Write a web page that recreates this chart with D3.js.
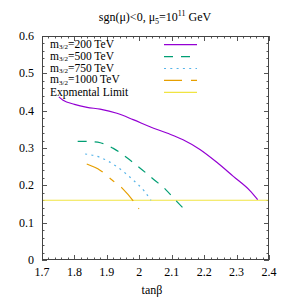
<!DOCTYPE html>
<html>
<head>
<meta charset="utf-8">
<script src="https://cdn.jsdelivr.net/npm/d3@7"></script>
<style>
  body { margin: 0; background: #fff; }
  svg { display: block; font-family: "Liberation Serif", "DejaVu Serif", serif; }
</style>
</head>
<body>
<div id="chart"></div>
<script>
var width = 292, height = 299;
var margin = {top: 36, right: 23, bottom: 39, left: 42};

// data
var xTicks = [1.7, 1.8, 1.9, 2, 2.1, 2.2, 2.3, 2.4];
var yTicks = [0, 0.1, 0.2, 0.3, 0.4, 0.5, 0.6];
var limitValue = 0.16;

var m200 = [[1.752, 0.437], [1.765, 0.428], [1.80, 0.417], [1.839, 0.409], [1.879, 0.404],
            [1.931, 0.393], [1.981, 0.376], [2.033, 0.357], [2.085, 0.34], [2.135, 0.322],
            [2.187, 0.296], [2.24, 0.261], [2.29, 0.224], [2.341, 0.186], [2.365, 0.162]];
var m500 = [[1.81, 0.318], [1.85, 0.317], [1.88, 0.314], [1.92, 0.299], [1.96, 0.275],
            [2.0, 0.248], [2.04, 0.219], [2.08, 0.19], [2.11, 0.162], [2.14, 0.135]];
var m750 = [[1.833, 0.284], [1.879, 0.275], [1.931, 0.25], [1.98, 0.215], [2.015, 0.185], [2.036, 0.16]];
var m1000 = [[1.838, 0.257], [1.88, 0.24], [1.915, 0.215], [1.95, 0.19], [1.98, 0.16], [1.999, 0.137]];

var series = [
  {label: "200", data: m200, color: "#9400d3", dash: null},
  {label: "500", data: m500, color: "#009e73", dash: "9,8"},
  {label: "750", data: m750, color: "#56b4e9", dash: "2,4.3"},
  {label: "1000", data: m1000, color: "#e69f00", dash: "18,9,6,9"}
];

var svg = d3.select("#chart").append("svg")
  .attr("width", width).attr("height", height);

var x = d3.scaleLinear().domain([1.7, 2.4]).range([margin.left, width - margin.right]);
var y = d3.scaleLinear().domain([0, 0.6]).range([height - margin.bottom, margin.top]);

var x0 = x.range()[0], x1 = x.range()[1], y0 = y.range()[0], y1 = y.range()[1];

// ticks, mirrored inside on all sides
var ticks = svg.append("g").style("stroke", "#555").style("stroke-width", 1);
var xMinor = d3.range(1.7, 2.4001, 0.02), yMinor = d3.range(0, 0.6001, 0.02);
xMinor.forEach(function(v) {
  var major = Math.abs(v * 10 - Math.round(v * 10)) < 1e-6, len = major ? 5 : 2.5;
  var px = Math.round(x(v)) + 0.5;
  ticks.append("line").attr("x1", px).attr("x2", px).attr("y1", y0).attr("y2", y0 - len);
  ticks.append("line").attr("x1", px).attr("x2", px).attr("y1", y1).attr("y2", y1 + len);
});
yMinor.forEach(function(v) {
  var major = Math.abs(v * 10 - Math.round(v * 10)) < 1e-6, len = major ? 5 : 2.5;
  var py = Math.round(y(v)) + 0.5;
  ticks.append("line").attr("x1", x0).attr("x2", x0 + len).attr("y1", py).attr("y2", py);
  ticks.append("line").attr("x1", x1).attr("x2", x1 - len).attr("y1", py).attr("y2", py);
});

// tick labels
svg.append("g").selectAll("text").data(xTicks).enter().append("text")
  .attr("x", function(d) { return x(d); })
  .attr("y", y0 + 16)
  .attr("text-anchor", "middle")
  .style("font-size", "12px")
  .text(function(d) { return d; });
svg.append("g").selectAll("text").data(yTicks).enter().append("text")
  .attr("x", x0 - 8)
  .attr("y", function(d) { return y(d) + 4; })
  .attr("text-anchor", "end")
  .style("font-size", "12px")
  .text(function(d) { return d; });

// limit line
svg.append("line")
  .attr("x1", x0).attr("x2", x1)
  .attr("y1", y(limitValue)).attr("y2", y(limitValue))
  .style("stroke", "#f0e442").style("stroke-width", 1.2);

// curves
var line = d3.line().curve(d3.curveMonotoneX)
  .x(function(d) { return x(d[0]); })
  .y(function(d) { return y(d[1]); });

series.forEach(function(s) {
  svg.append("path").datum(s.data)
    .attr("d", line)
    .style("fill", "none")
    .style("stroke", s.color)
    .style("stroke-width", 1.2)
    .style("stroke-dasharray", s.dash);
});

// frame
svg.append("rect")
  .attr("x", x0 + 0.5).attr("y", y1 + 0.5)
  .attr("width", x1 - x0 - 1).attr("height", y0 - y1 - 1)
  .style("fill", "none").style("stroke", "#444").style("stroke-width", 1);

// legend
var legend = svg.append("g");
var legendItems = series.concat([{label: null, color: "#f0e442", dash: null}]);
legendItems.forEach(function(s, i) {
  var ly = 44.7 + i * 11.9;
  var t = legend.append("text").attr("x", 50).attr("y", ly + 3).style("font-size", "11.5px");
  if (s.label) {
    t.append("tspan").text("m");
    t.append("tspan").attr("dy", 1.5).style("font-size", "7px").text("3/2");
    t.append("tspan").attr("dy", -1.5).text("=" + s.label + " TeV");
  } else {
    t.attr("y", ly + 3.5).text("Expmental Limit");
  }
  legend.append("line")
    .attr("x1", 164).attr("x2", 197).attr("y1", ly).attr("y2", ly)
    .style("stroke", s.color).style("stroke-width", 1.2)
    .style("stroke-dasharray", s.dash);
});

// title
var title = svg.append("text").attr("x", 155).attr("y", 21)
  .attr("text-anchor", "middle").style("font-size", "12px");
title.append("tspan").text("sgn(\u03bc)<0,    \u03bc");
title.append("tspan").attr("dy", 3).style("font-size", "8px").text("5");
title.append("tspan").attr("dy", -3).text("=10");
title.append("tspan").attr("dy", -5).style("font-size", "8px").text("11");
title.append("tspan").attr("dy", 5).text(" GeV");

// x axis label
svg.append("text").attr("x", 152).attr("y", 294)
  .attr("text-anchor", "middle").style("font-size", "12px")
  .text("tan\u03b2");
</script>
</body>
</html>
